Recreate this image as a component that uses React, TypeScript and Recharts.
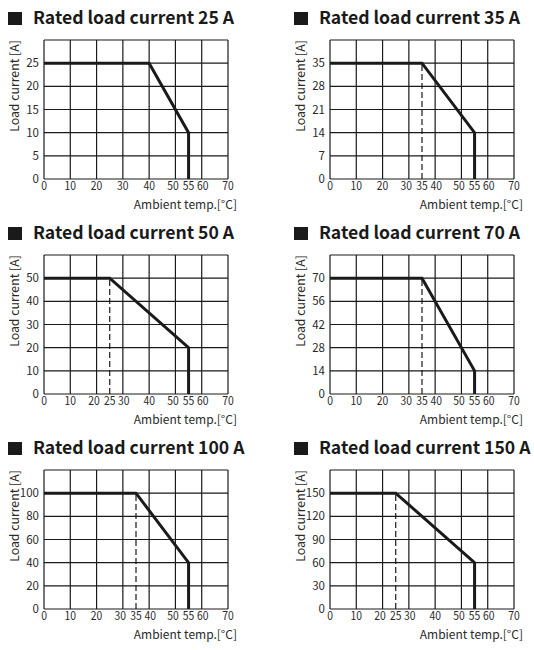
import React from 'react';
import { LineChart, Line, XAxis, YAxis, ReferenceLine } from 'recharts';

// temperature [°C] / load current [A] break points
const curve25 = [{ t: 0, a: 25 }, { t: 40, a: 25 }, { t: 55, a: 10 }, { t: 55, a: 0 }];
const curve35 = [{ t: 0, a: 35 }, { t: 35, a: 35 }, { t: 55, a: 14 }, { t: 55, a: 0 }];
const curve50 = [{ t: 0, a: 50 }, { t: 25, a: 50 }, { t: 55, a: 20 }, { t: 55, a: 0 }];
const curve70 = [{ t: 0, a: 70 }, { t: 35, a: 70 }, { t: 55, a: 14 }, { t: 55, a: 0 }];
const curve100 = [{ t: 0, a: 100 }, { t: 35, a: 100 }, { t: 55, a: 40 }, { t: 55, a: 0 }];
const curve150 = [{ t: 0, a: 150 }, { t: 25, a: 150 }, { t: 55, a: 60 }, { t: 55, a: 0 }];

const ratedCurrents = [25, 35, 50, 70, 100, 150];
const yStep = [5, 7, 10, 14, 20, 30];
const dashedAt = [null, 35, 25, 35, 35, 25];

const xGrid = [0, 10, 20, 30, 40, 50, 60, 70];
const xTicks25 = [0, 10, 20, 30, 40, 50, 55, 60, 70];
const xTicks35 = [0, 10, 20, 30, 35, 40, 50, 55, 60, 70];
const xTicks25k = [0, 10, 20, 25, 30, 40, 50, 55, 60, 70];

const curves = [curve25, curve35, curve50, curve70, curve100, curve150];
const xTickSets = [xTicks25, xTicks35, xTicks25k, xTicks35, xTicks35, xTicks25k];

const FONT = '"Noto Sans CJK JP", "Noto Sans", sans-serif';
const INK = '#1a1a1a';
const TXT = '#2a2a2a';

const W = 250;
const H = 215;

// x tick label: slightly condensed, nudged apart where a 5-degree label sits in between
const XTick = (props: any) => {
  const { x, y, payload, ticks } = props;
  const v = payload.value;
  let dx = 0;
  if (ticks.includes(v + 5) && v % 10 === 0) dx = -2.5;
  if (ticks.includes(v - 5) && v % 10 === 0) dx = 1;
  return (
    <text
      transform={`translate(${x + dx},${y}) scale(0.9,1)`}
      textAnchor="middle" dy="0.71em" fontSize={11.5} fill={TXT} fontFamily={FONT}
    >
      {v}
    </text>
  );
};

const Panel: React.FC<{ idx: number; left: number; top: number }> = ({ idx, left, top }) => {
  const rated = ratedCurrents[idx];
  const step = yStep[idx];
  const yTicks = [0, 1, 2, 3, 4, 5].map((k) => k * step);
  const yGrid = [...yTicks, 6 * step];
  const knee = dashedAt[idx];
  const xTicks = xTickSets[idx];
  const tickStyle = { fontSize: 11.5, fill: TXT, fontFamily: FONT };

  return (
    <div style={{ position: 'absolute', left, top, width: W, height: H, fontFamily: FONT, color: INK }}>
      <div style={{ position: 'absolute', left: 8, top: 12, width: 14, height: 13, background: INK }} />
      <div style={{ position: 'absolute', left: 33, top: 5, fontSize: 17.6, fontWeight: 700, whiteSpace: 'nowrap', lineHeight: '24px' }}>
        Rated load current {rated} A
      </div>
      <div
        style={{
          position: 'absolute', left: 14, top: 86, fontSize: 12.3, whiteSpace: 'nowrap',
          transform: 'translate(-50%, -50%) rotate(-90deg)', color: TXT,
        }}
      >
        Load current [A]
      </div>
      <div style={{ position: 'absolute', right: W - 237, top: 195, fontSize: 12, whiteSpace: 'nowrap', color: TXT, lineHeight: '18px' }}>
        Ambient temp.[°C]
      </div>
      <LineChart width={W} height={H} data={curves[idx]} margin={{ top: 40, right: W - 228, bottom: 0, left: 0 }}>
        <XAxis
          type="number" dataKey="t" domain={[0, 70]} ticks={xTicks} interval={0}
          axisLine={false} tickLine={false} tickSize={0} tickMargin={3} height={36}
          tick={<XTick ticks={xTicks} />}
        />
        <YAxis
          type="number" domain={[0, 6 * step]} ticks={yTicks} interval={0}
          axisLine={false} tickLine={false} tickSize={0} tickMargin={5} width={44} tick={tickStyle}
        />
        {xGrid.map((v) => (
          <ReferenceLine key={'x' + v} x={v} stroke={INK} strokeWidth={1.2} />
        ))}
        {yGrid.map((v) => (
          <ReferenceLine key={'y' + v} y={v} stroke={INK} strokeWidth={1.2} />
        ))}
        {knee !== null && (
          <ReferenceLine
            segment={[{ x: knee, y: 0 }, { x: knee, y: rated }]}
            stroke={INK} strokeWidth={1.2} strokeDasharray="6 3"
          />
        )}
        <Line
          type="linear" dataKey="a" stroke={INK} strokeWidth={3} dot={false}
          strokeLinejoin="miter" isAnimationActive={false}
        />
      </LineChart>
    </div>
  );
};

export default function App() {
  const lefts = [0, 286];
  const tops = [0, 215, 430];
  return (
    <div style={{ position: 'absolute', left: 0, top: 0, width: 534, height: 650, background: '#fff' }}>
      {ratedCurrents.map((_, i) => (
        <Panel key={i} idx={i} left={lefts[i % 2]} top={tops[Math.floor(i / 2)]} />
      ))}
    </div>
  );
}
